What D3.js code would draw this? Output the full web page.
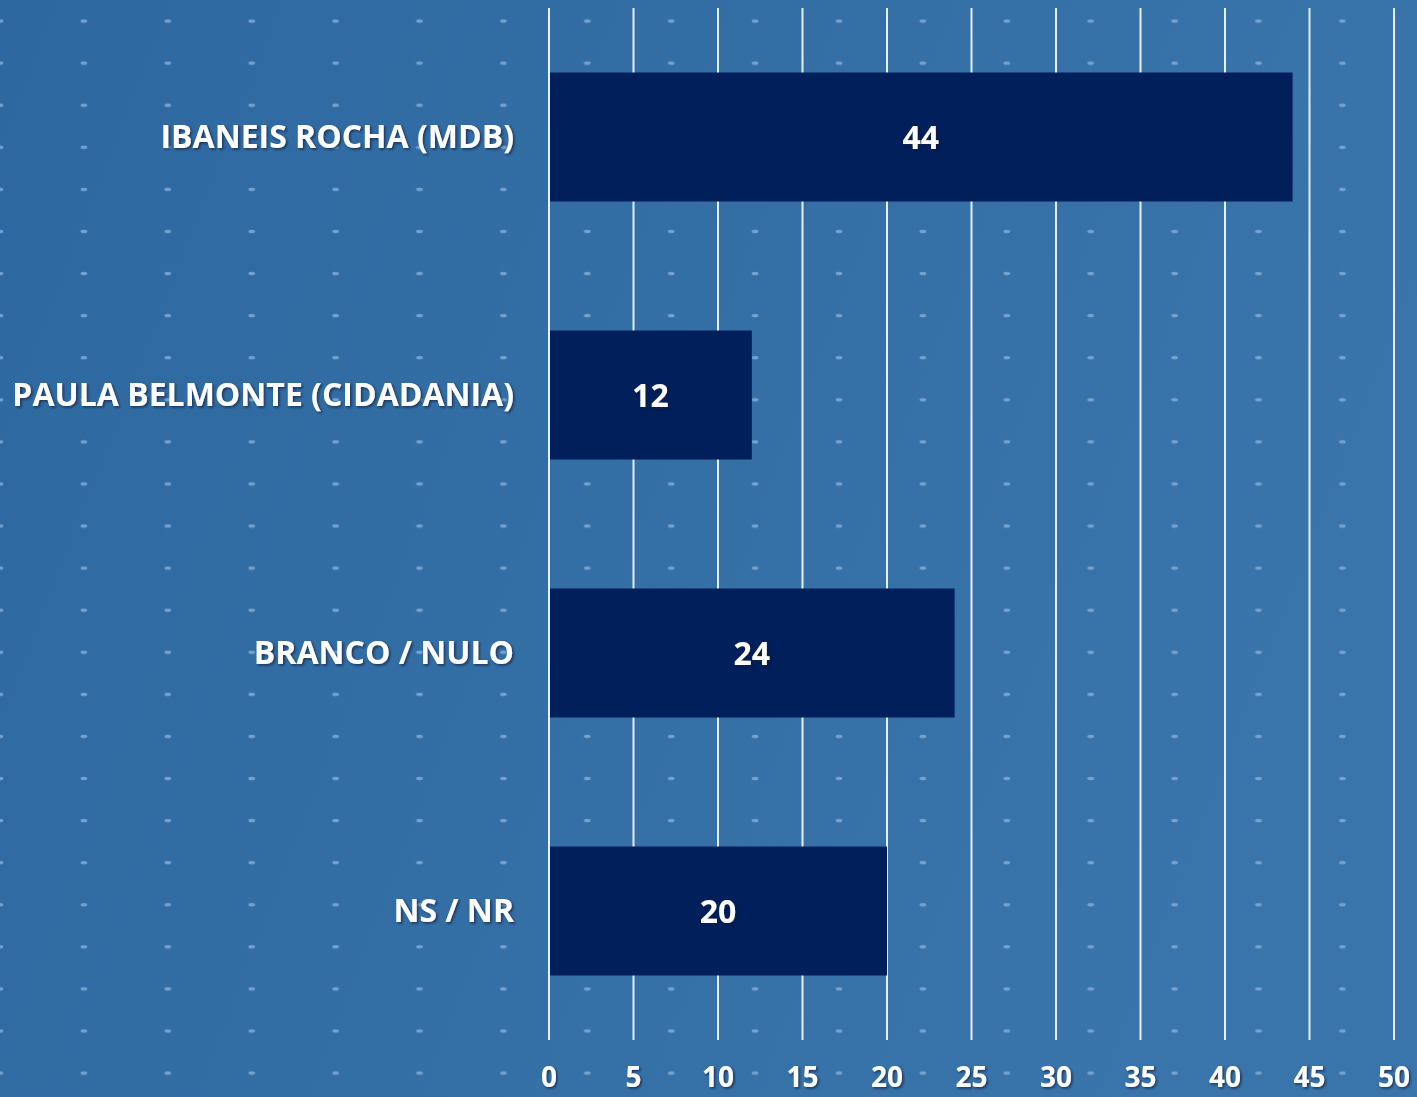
<!DOCTYPE html>
<meta charset="utf-8">
<style>
    body { margin: 0; background: #306ca3; }
    svg { display: block; }
    .lbl { font-family: "Open Sans", sans-serif; font-weight: bold; fill: #fff; }
</style>
<svg width="1417" height="1097"></svg>
<script src="https://cdn.jsdelivr.net/npm/d3@7"></script>
<script>
    var categories = ["IBANEIS ROCHA (MDB)", "PAULA BELMONTE (CIDADANIA)", "BRANCO / NULO", "NS / NR"];
    var values = [44, 12, 24, 20];
    var ticks = [0, 5, 10, 15, 20, 25, 30, 35, 40, 45, 50];

    var svg = d3.select("svg"),
        width = +svg.attr("width"),
        height = +svg.attr("height");

    var defs = svg.append("defs");

    // fundo com leve degrade
    var grad = defs.append("linearGradient").attr("id", "bg")
        .attr("x1", "0").attr("y1", "0").attr("x2", "1").attr("y2", "0.3");
    grad.append("stop").attr("offset", "0").attr("stop-color", "#2d69a0");
    grad.append("stop").attr("offset", "1").attr("stop-color", "#3974aa");

    var pat = defs.append("pattern").attr("id", "dots")
        .attr("patternUnits", "userSpaceOnUse")
        .attr("width", 83.9).attr("height", 42.08)
        .attr("x", -41.95).attr("y", 0);
    pat.append("ellipse")
        .attr("cx", 41.95).attr("cy", 21)
        .attr("rx", 3.4).attr("ry", 1.7)
        .attr("fill", "#80acd8").attr("opacity", 0.85);

    var shadow = defs.append("filter").attr("id", "shadow")
        .attr("x", "-5%").attr("y", "-20%").attr("width", "110%").attr("height", "140%");
    shadow.append("feDropShadow").attr("dx", 1.5).attr("dy", 1.5)
        .attr("stdDeviation", 1.3).attr("flood-color", "#0a1f3d").attr("flood-opacity", 0.7);

    svg.append("rect").attr("width", width).attr("height", height).attr("fill", "url(#bg)");
    svg.append("rect").attr("width", width).attr("height", height).attr("fill", "url(#dots)");

    var x = d3.scaleLinear().domain([0, 50]).range([549, 1394]);
    var y = d3.scaleBand().domain(categories).range([8, 1040]).paddingInner(0.5).paddingOuter(0.25);

    // linhas de grade
    svg.append("g").selectAll("line")
        .data(ticks)
        .enter().append("line")
        .attr("x1", function (d) { return x(d); })
        .attr("x2", function (d) { return x(d); })
        .attr("y1", 8)
        .attr("y2", 1040)
        .attr("stroke", "#e6eef7")
        .attr("stroke-width", 2);

    svg.append("g").selectAll("rect")
        .data(values)
        .enter().append("rect")
        .attr("x", x(0) + 1)
        .attr("y", function (d, i) { return y(categories[i]); })
        .attr("width", function (d) { return x(d) - x(0) - 1; })
        .attr("height", y.bandwidth())
        .attr("fill", "#001f5b");

    svg.append("g").selectAll("text")
        .data(values)
        .enter().append("text")
        .attr("class", "lbl")
        .attr("x", function (d) { return (x(0) + x(d)) / 2; })
        .attr("y", function (d, i) { return y(categories[i]) + y.bandwidth() / 2 + 1; })
        .attr("dy", "0.35em")
        .attr("text-anchor", "middle")
        .style("font-size", "32px")
        .attr("filter", "url(#shadow)")
        .text(function (d) { return d; });

    svg.append("g").selectAll("text")
        .data(categories)
        .enter().append("text")
        .attr("class", "lbl")
        .attr("x", 514)
        .attr("y", function (d) { return y(d) + y.bandwidth() / 2; })
        .attr("dy", "0.35em")
        .attr("text-anchor", "end")
        .style("font-size", "32px")
        .attr("filter", "url(#shadow)")
        .text(function (d) { return d; });

    svg.append("g").selectAll("text")
        .data(ticks)
        .enter().append("text")
        .attr("class", "lbl")
        .attr("x", function (d) { return x(d); })
        .attr("y", 1077)
        .attr("dy", "0.35em")
        .attr("text-anchor", "middle")
        .style("font-size", "28px")
        .attr("filter", "url(#shadow)")
        .text(function (d) { return d; });
</script>
